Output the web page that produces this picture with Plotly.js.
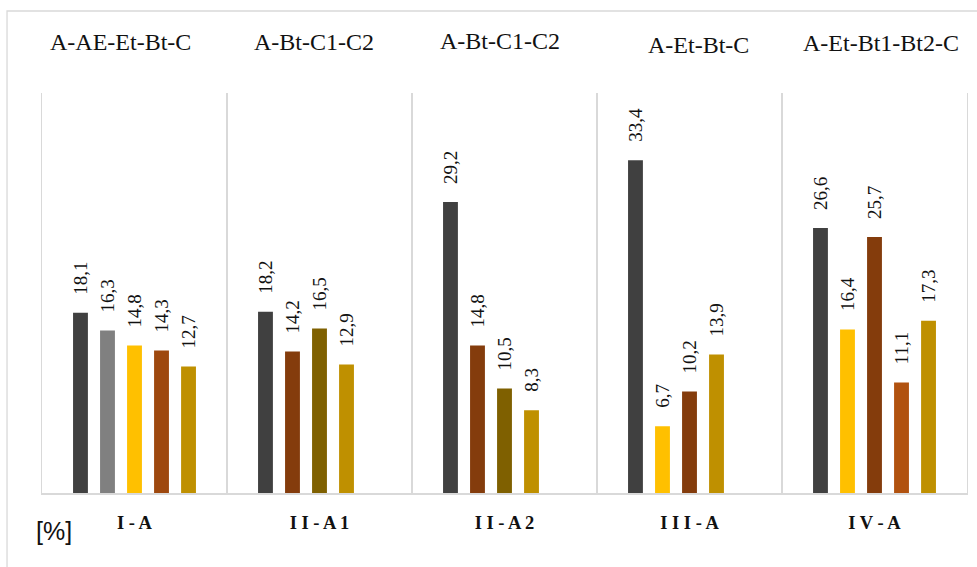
<!DOCTYPE html>
<html>
<head>
<meta charset="utf-8">
<script src="https://cdn.plot.ly/plotly-3.0.1.min.js"></script>
<style>html,body{margin:0;padding:0;background:#fff;}#chart{width:977px;height:567px;}</style>
</head>
<body>
<div id="chart"></div>
<script>
// ---- data ----
const categories = ["I-A", "II-A1", "II-A2", "III-A", "IV-A"];
const profiles = ["A-AE-Et-Bt-C", "A-Bt-C1-C2", "A-Bt-C1-C2", "A-Et-Bt-C", "A-Et-Bt1-Bt2-C"];
const series1 = [18.1, 18.2, 29.2, 33.4, 26.6];
const series2 = [16.3, 14.2, 14.8, 6.7, 16.4];
const series3 = [14.8, 16.5, 10.5, 10.2, 25.7];
const series4 = [14.3, 12.9, 8.3, 13.9, 11.1];
const series5 = [12.7, null, null, null, 17.3];
const unitLabel = "[%]";

// ---- styles ----
const SERIF = "Liberation Serif, Times New Roman, serif";
const SANS = "Liberation Sans, Arial, sans-serif";
const colors1 = ["#404040", "#404040", "#404040", "#404040", "#404040"];
const colors2 = ["#808080", "#843C0C", "#843C0C", "#FFC000", "#FFC000"];
const colors3 = ["#FFC000", "#7F6000", "#7F6000", "#843C0C", "#843C0C"];
const colors4 = ["#9E480E", "#BF9000", "#BF9000", "#BF9000", "#B1520F"];
const colors5 = ["#BF9000", "#BF9000", "#BF9000", "#BF9000", "#BF9000"];

const allSeries = [series1, series2, series3, series4, series5];
const allColors = [colors1, colors2, colors3, colors4, colors5];

const traces = allSeries.map((vals, j) => ({
  type: "bar",
  x: categories,
  y: vals,
  marker: {color: allColors[j], line: {width: 0}},
  hoverinfo: "skip",
  showlegend: false
}));

const slotPx = 27;
const annotations = [];
allSeries.forEach((vals, j) => {
  vals.forEach((v, i) => {
    if (v === null) return;
    annotations.push({
      x: categories[i], xref: "x", y: v, yref: "y",
      xshift: (j - 2) * slotPx, yshift: 16,
      text: v.toFixed(1).replace(".", ","),
      textangle: -90, showarrow: false,
      xanchor: "center", yanchor: "bottom",
      font: {family: SERIF, size: 19, color: "#111"}
    });
  });
});

const titleXShift = [-14.5, -5.5, -4.5, 8.5, 6.5];
const titleYShift = [51, 51, 52, 48, 50];
profiles.forEach((t, i) => {
  annotations.push({
    x: categories[i], xref: "x", y: 1, yref: "paper",
    xshift: titleXShift[i], yshift: titleYShift[i],
    text: t, showarrow: false, xanchor: "center", yanchor: "middle",
    font: {family: SERIF, size: 24, color: "#111"}
  });
});

annotations.push({
  x: 0, xref: "paper", y: 0, yref: "paper",
  xshift: 11.5, yshift: -38,
  text: unitLabel, showarrow: false, xanchor: "center", yanchor: "middle",
  font: {family: SANS, size: 25, color: "#111"}
});

const layout = {
  width: 977, height: 567,
  margin: {l: 42, r: 10, t: 93, b: 74, pad: 0},
  paper_bgcolor: "#fff", plot_bgcolor: "#fff",
  font: {family: SERIF},
  barmode: "group", bargap: 0.27, bargroupgap: 0.45,
  xaxis: {
    type: "category",
    tickvals: categories,
    ticktext: categories.map(c => c.split("").join(" ")),
    tickson: "boundaries",
    showgrid: true, gridcolor: "#d9d9d9", gridwidth: 1.3,
    showline: true, linecolor: "#d9d9d9", linewidth: 2,
    ticks: "", ticklabelstandoff: 12,
    tickfont: {family: SERIF, size: 18.5, color: "#111", weight: "bold"},
    fixedrange: true
  },
  yaxis: {
    range: [0, 40.15],
    showgrid: false, zeroline: false, showticklabels: false, ticks: "",
    showline: true, mirror: true, linecolor: "#d9d9d9", linewidth: 1.3,
    fixedrange: true
  },
  shapes: [{
    type: "rect", xref: "paper", yref: "paper",
    x0: -0.0378, x1: 1.03, y0: 1.205, y1: -0.22,
    line: {color: "#d9d9d9", width: 1.3}, fillcolor: "rgba(0,0,0,0)", layer: "below"
  }],
  annotations: annotations
};

Plotly.newPlot("chart", traces, layout, {displayModeBar: false, staticPlot: true});
</script>
</body>
</html>
